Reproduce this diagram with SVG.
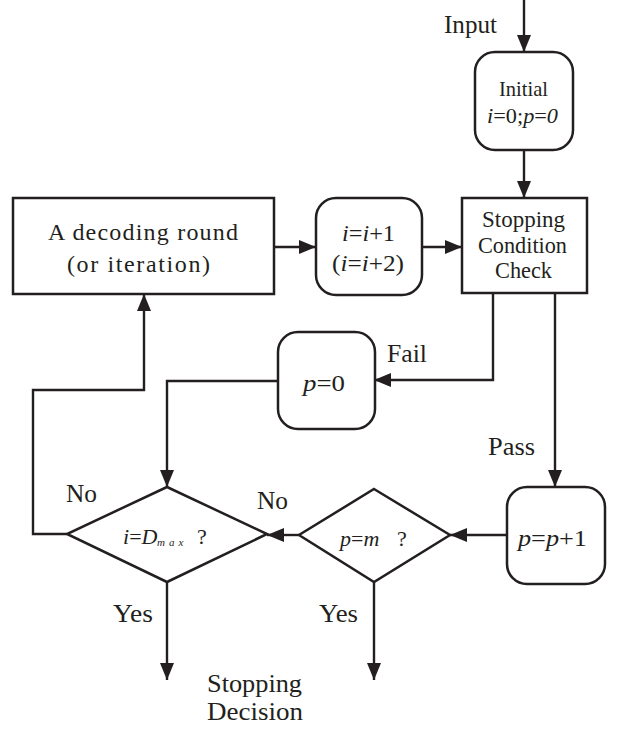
<svg xmlns="http://www.w3.org/2000/svg" width="623" height="729" viewBox="0 0 623 729">
  <style>
    .box { fill: #fff; stroke: #231f20; stroke-width: 2.5; }
    .edge { fill: none; stroke: #231f20; stroke-width: 2.4; }
    .t { font-family: "Liberation Serif", "Times New Roman", serif; font-size: 24px; fill: #231f20; }
    .lbl { font-family: "Liberation Serif", "Times New Roman", serif; font-size: 26px; fill: #231f20; }
    .it { font-style: italic; }
    .sub { font-style: italic; font-size: 11px; letter-spacing: 4px; }
  </style>
  <defs>
    <marker id="arrow" viewBox="0 0 17 14" refX="17" refY="7" markerWidth="17" markerHeight="14" markerUnits="userSpaceOnUse" orient="auto">
      <path d="M0,0 L17,7 L0,14 z" fill="#231f20"/>
    </marker>
  </defs>

  <!-- connectors -->
  <g id="connectors" class="edge" marker-end="url(#arrow)">
    <path d="M524,0 V52"/>
    <path d="M524,150 V198"/>
    <path d="M274,247 H316"/>
    <path d="M422,247 H462"/>
    <path d="M493,293 V380 H374"/>
    <path d="M555,293 V487"/>
    <path d="M507,535 H450"/>
    <path d="M299,535 H267"/>
    <path d="M278,381 H167 V487"/>
    <path d="M67,534 H33 V390 H144 V294"/>
    <path d="M167,582 V680"/>
    <path d="M374,582 V680"/>
  </g>

  <!-- edge labels -->
  <g id="labels">
    <text class="lbl" x="444" y="33" textLength="53" lengthAdjust="spacingAndGlyphs">Input</text>
    <text class="lbl" x="387" y="362" textLength="40" lengthAdjust="spacingAndGlyphs">Fail</text>
    <text class="lbl" x="488" y="455" textLength="47" lengthAdjust="spacingAndGlyphs">Pass</text>
    <text class="lbl" x="66" y="502" textLength="31" lengthAdjust="spacingAndGlyphs">No</text>
    <text class="lbl" x="257" y="509" textLength="31" lengthAdjust="spacingAndGlyphs">No</text>
    <text class="lbl" x="113" y="622" textLength="40" lengthAdjust="spacingAndGlyphs">Yes</text>
    <text class="lbl" x="319" y="622" textLength="39" lengthAdjust="spacingAndGlyphs">Yes</text>
    <text class="lbl" x="207" y="692" textLength="95" lengthAdjust="spacingAndGlyphs">Stopping</text>
    <text class="lbl" x="207" y="720" textLength="96" lengthAdjust="spacingAndGlyphs">Decision</text>
  </g>

  <g id="initial">
    <rect class="box" x="475" y="52" width="98" height="98" rx="20"/>
    <text class="t" x="499" y="96" style="font-size:22px" textLength="49" lengthAdjust="spacingAndGlyphs">Initial</text>
    <text class="t" x="487" y="123" style="font-size:22px" textLength="71" lengthAdjust="spacingAndGlyphs"><tspan class="it">i</tspan>=0;<tspan class="it">p</tspan>=<tspan class="it">0</tspan></text>
  </g>

  <g id="stopping-check">
    <rect class="box" x="462" y="198" width="125" height="95"/>
    <text class="t" x="482" y="227" textLength="83" lengthAdjust="spacingAndGlyphs">Stopping</text>
    <text class="t" x="478" y="253" textLength="89" lengthAdjust="spacingAndGlyphs">Condition</text>
    <text class="t" x="495" y="278" textLength="57" lengthAdjust="spacingAndGlyphs">Check</text>
  </g>

  <g id="decoding-round">
    <rect class="box" x="13" y="198" width="261" height="96"/>
    <text class="t" x="48" y="240" textLength="190">A decoding round</text>
    <text class="t" x="67" y="272" textLength="143">(or iteration)</text>
  </g>

  <g id="increment-i">
    <rect class="box" x="316" y="198" width="106" height="97" rx="20"/>
    <text class="t" x="342" y="241" textLength="53" lengthAdjust="spacingAndGlyphs"><tspan class="it">i</tspan>=<tspan class="it">i</tspan>+1</text>
    <text class="t" x="332" y="271" textLength="72" lengthAdjust="spacingAndGlyphs">(<tspan class="it">i</tspan>=<tspan class="it">i</tspan>+2)</text>
  </g>

  <g id="reset-p">
    <rect class="box" x="278" y="332" width="97" height="97" rx="20"/>
    <text class="t" x="303" y="391" textLength="42" lengthAdjust="spacingAndGlyphs"><tspan class="it">p</tspan>=0</text>
  </g>

  <g id="increment-p">
    <rect class="box" x="507" y="487" width="98" height="97" rx="20"/>
    <text class="t" x="518" y="546" textLength="69" lengthAdjust="spacingAndGlyphs"><tspan class="it">p</tspan>=<tspan class="it">p</tspan>+1</text>
  </g>

  <g id="check-dmax">
    <polygon class="box" points="167,487 267,534 167,582 67,534"/>
    <text class="t" x="123" y="544" style="font-size:22px"><tspan class="it">i</tspan>=<tspan class="it">D</tspan><tspan class="sub" x="157" y="546">max</tspan><tspan x="197" y="544">?</tspan></text>
  </g>

  <g id="check-m">
    <polygon class="box" points="374,489 450,535 374,582 299,535"/>
    <text class="t" x="340" y="546" style="font-size:22px"><tspan class="it">p</tspan>=<tspan class="it">m</tspan><tspan x="397">?</tspan></text>
  </g>
</svg>
